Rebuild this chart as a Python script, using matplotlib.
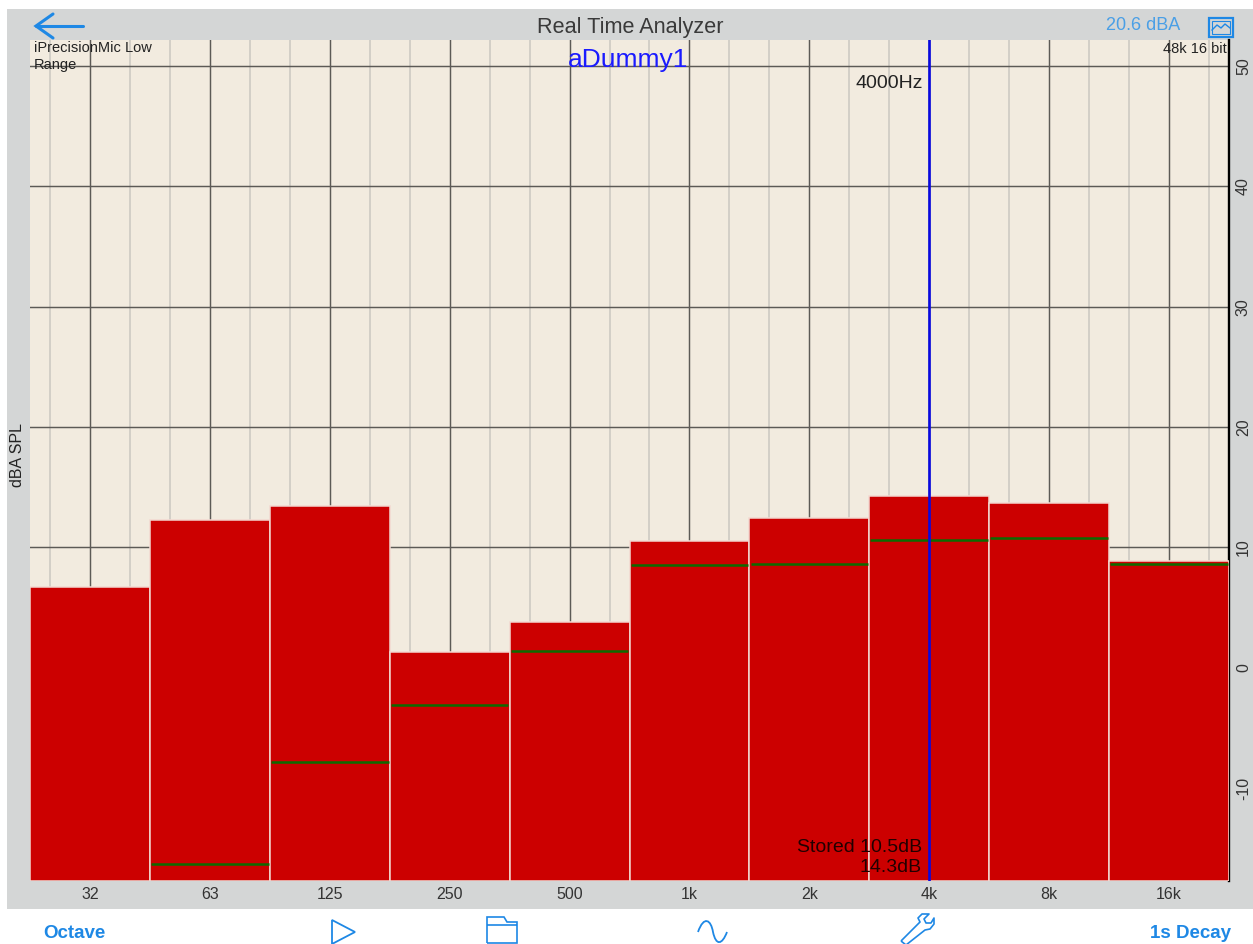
import matplotlib
matplotlib.use("Agg")
from matplotlib import pyplot as plt
from matplotlib.patches import Rectangle, PathPatch, Polygon
from matplotlib.path import Path

plt.rcParams['font.family'] = ['Liberation Sans', 'DejaVu Sans']

W, H = 1253, 944

bands = ["32", "63", "125", "250", "500", "1k", "2k", "4k", "8k", "16k"]
levels = [6.73, 12.3, 13.4, 1.33, 3.82, 10.56, 12.47, 14.3, 13.7, 8.9]
# the 32 band has no stored line in range
stored = [None, -16.3, -7.8, -3.07, 1.41, 8.56, 8.65, 10.6, 10.8, 8.65]
y_ticks = [-10, 0, 10, 20, 30, 40, 50]

GRAY = "#d4d6d6"
PAPER = "#f2ebdf"
RED = "#cc0000"
GREEN = "#0b6b00"
ICON = "#1e88e5"

fig = plt.figure(figsize=(W / 100, H / 100), dpi=100, facecolor="white")

# ----------------------------------------------------------------------------
# chart
# ----------------------------------------------------------------------------
ax = fig.add_axes([30 / W, (H - 881) / H, 1199 / W, 841 / H], facecolor=PAPER, zorder=2)
x_pos = [i + 0.5 for i in range(len(bands))]

ax.bar(x_pos, [v + 17.73 for v in levels], width=1.0, bottom=-17.73, color=RED,
       edgecolor="#f3d8d0", linewidth=1.1, zorder=3)
for x, s in zip(x_pos, stored):
    if s is not None:
        ax.hlines(s, x - 0.49, x + 0.49, color=GREEN, linewidth=1.8, zorder=4)

ax.set_xlim(0, 10)
ax.set_ylim(-17.73, 52.16)
ax.set_xticks(x_pos)
ax.set_xticklabels(bands, fontsize=11.5, color="#333333")
ax.set_xticks([x + d for x in x_pos for d in (-1 / 3, 1 / 3)], minor=True)
ax.yaxis.tick_right()
ax.set_yticks(y_ticks)
ax.set_yticklabels(y_ticks, rotation=90, va="center", fontsize=11.5, color="#333333")
ax.tick_params(which="both", length=0)
ax.tick_params(axis="x", pad=4)
ax.tick_params(axis="y", pad=5)
ax.set_axisbelow(True)
ax.grid(which="major", color="#5c5a56", linewidth=1.05, zorder=1)
ax.grid(which="minor", axis="x", color="#cfcbc4", linewidth=1.25, zorder=1)

for side in ("top", "left", "bottom"):
    ax.spines[side].set_visible(False)
ax.spines["right"].set_linewidth(1.7)
ax.spines["right"].set_color("black")

ax.axvline(7.5, color="#0808e0", linewidth=1.9, zorder=5)

# ----------------------------------------------------------------------------
# app chrome, in pixel coordinates
# ----------------------------------------------------------------------------
bg = fig.add_axes([0, 0, 1, 1], zorder=1)
bg.set_xlim(0, W)
bg.set_ylim(H, 0)
bg.axis("off")
bg.add_patch(Rectangle((7, 9), W - 7, 900, facecolor=GRAY, edgecolor="none"))

ov = fig.add_axes([0, 0, 1, 1], zorder=3)
ov.set_xlim(0, W)
ov.set_ylim(H, 0)
ov.axis("off")
ov.patch.set_alpha(0)

ov.text(630, 27, "Real Time Analyzer", ha="center", va="center", fontsize=15.6, color="#3a3a3a")
ov.text(1143, 26, "20.6 dBA", ha="center", va="center", fontsize=13, color="#4a9fe6")
ov.text(34, 41, "iPrecisionMic Low\nRange", ha="left", va="top", fontsize=10.5,
        color="#222222", linespacing=1.25)
ov.text(1227, 49, "48k 16 bit", ha="right", va="center", fontsize=10.5, color="#222222")
ov.text(628, 60, "aDummy1", ha="center", va="center", fontsize=19, color="#1a1aff")
ov.text(923, 83, "4000Hz", ha="right", va="center", fontsize=14, color="#222222")
ov.text(922, 847, "Stored 10.5dB", ha="right", va="center", fontsize=14, color="#220000")
ov.text(922, 868, "14.3dB", ha="right", va="center", fontsize=14, color="#220000")
ov.text(18, 455, "dBA SPL", ha="center", va="center", rotation=90, fontsize=11.5, color="#222222")
ov.text(74, 933, "Octave", ha="center", va="center", fontsize=13.5, fontweight="bold", color=ICON)
ov.text(1191, 933, "1s Decay", ha="center", va="center", fontsize=13.5, fontweight="bold", color=ICON)

# back arrow
ov.plot([83, 36], [26, 26], color=ICON, lw=2.2, solid_capstyle="round")
ov.plot([53, 36, 53], [14, 26, 38], color=ICON, lw=2.2, solid_capstyle="round", solid_joinstyle="miter")

# screenshot icon
ov.add_patch(Rectangle((1209, 18), 24, 19, fill=False, edgecolor=ICON, lw=1.6))
ov.add_patch(Rectangle((1212, 21), 18, 13, fill=False, edgecolor=ICON, lw=0.8))
ov.plot([1212, 1217, 1221, 1225, 1230], [30, 25, 28, 24, 28], color=ICON, lw=1)

# play
ov.add_patch(Polygon([(332, 920), (355, 932), (332, 944)], closed=True, fill=False,
                     edgecolor=ICON, lw=1.3, clip_on=False))

# folder
folder = Path([(487, 943), (487, 917), (504, 917), (507, 922), (517, 922), (517, 943), (487, 943),
               (487, 925), (517, 925)],
              [Path.MOVETO] + [Path.LINETO] * 6 + [Path.MOVETO, Path.LINETO])
ov.add_patch(PathPatch(folder, fill=False, edgecolor=ICON, lw=1.2))

# sine wave
wave = Path([(698, 932), (704, 915), (711, 920), (713, 932), (716, 946), (722, 945), (727, 932)],
            [Path.MOVETO] + [Path.CURVE4] * 6)
ov.add_patch(PathPatch(wave, fill=False, edgecolor=ICON, lw=1.3))

# wrench
wrench = Path([(901, 941), (920, 922), (918, 918), (922, 914), (929, 914), (924, 919),
               (926, 923), (931, 923), (934, 918), (934, 924), (930, 929), (925, 930),
               (906, 945), (901, 941)],
              [Path.MOVETO] + [Path.LINETO] * 13)
ov.add_patch(PathPatch(wrench, fill=False, edgecolor=ICON, lw=1.2, joinstyle="round"))

fig.savefig("out.png", dpi=100)
